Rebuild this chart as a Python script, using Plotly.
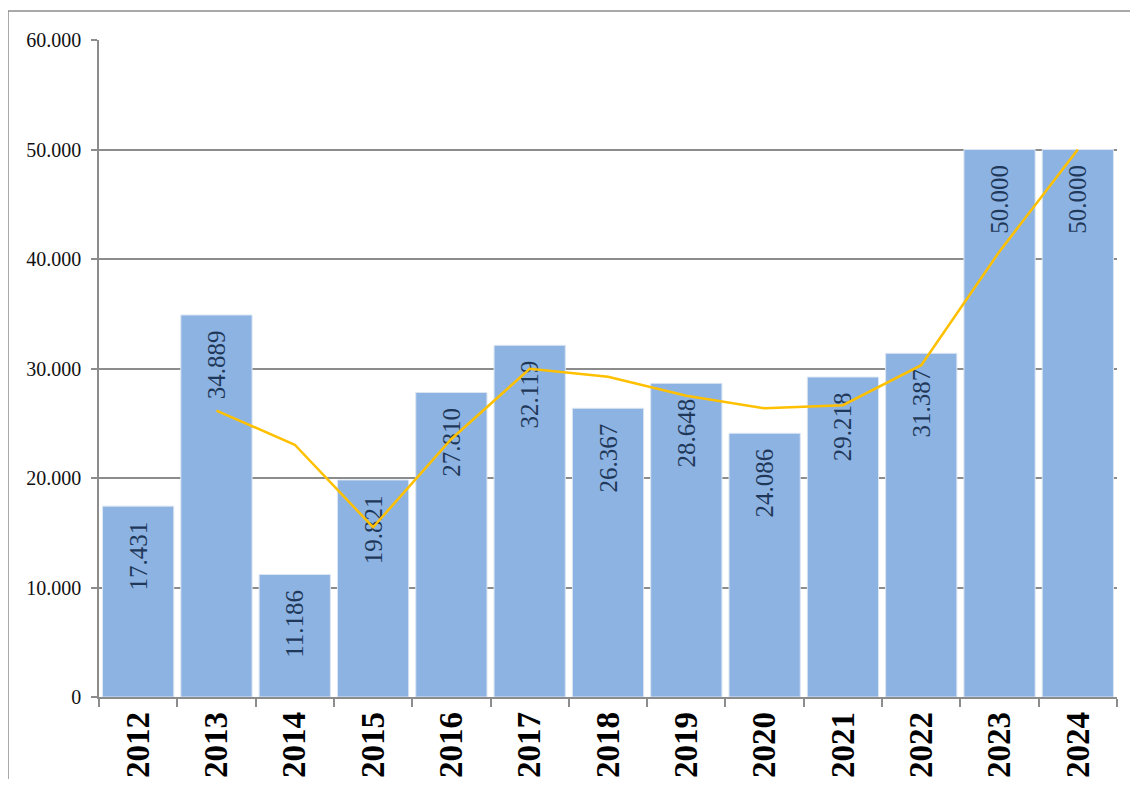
import plotly.graph_objects as go

years = ["2012", "2013", "2014", "2015", "2016", "2017", "2018",
         "2019", "2020", "2021", "2022", "2023", "2024"]
values = [17431, 34889, 11186, 19821, 27810, 32119, 26367,
          28648, 24086, 29218, 31387, 50000, 50000]
# yellow line (starts in 2013)
line_years = years[1:]
line_values = [26160, 23038, 15504, 23566, 29965, 29243, 27508,
               26367, 26652, 30303, 40694, 50000]

fig = go.Figure()

fig.add_trace(go.Bar(
    x=years, y=values,
    marker=dict(color="#8DB3E2", line=dict(color="#DCE6F2", width=1)),
    texttemplate="%{y:,.0f}\u00a0\u00a0",
    textposition="inside",
    insidetextanchor="end",
    textangle=-90,
    insidetextfont=dict(family="Liberation Serif", size=25, color="#1F3859"),
    showlegend=False,
))

fig.add_trace(go.Scatter(
    x=line_years, y=line_values, mode="lines",
    line=dict(color="#FFC000", width=2.5),
    showlegend=False,
))

# the page has an 8px body margin, so the figure sits 8px in from the top-left
off = 8
W, H = 1138 - 2 * off, 787 - 2 * off
ml, mr, mt, mb = 99 - off, 1138 - off - 1117, 40 - off, (787 - off) - 697
pw, ph = W - ml - mr, H - mt - mb
px = lambda v: (v - off - ml) / pw
py = lambda v: (H - mb - (v - off)) / ph

# outer frame (top and left edges)
fig.add_shape(type="line", xref="paper", yref="paper",
              x0=px(8), x1=px(1145), y0=py(11), y1=py(11),
              line=dict(color="#8C8C8C", width=1.5))
fig.add_shape(type="line", xref="paper", yref="paper",
              x0=px(8), x1=px(8), y0=py(11), y1=py(795),
              line=dict(color="#8C8C8C", width=1.5))

fig.update_xaxes(
    type="category",
    tickson="boundaries",
    ticks="outside", ticklen=8, tickcolor="#8C8C8C", tickwidth=1.5,
    showline=True, linecolor="#8C8C8C", linewidth=1.5,
    showgrid=False,
    tickangle=-90,
    automargin=False,
    tickfont=dict(family="Liberation Serif", size=33, color="black", weight="bold"),
)
fig.update_yaxes(
    range=[0, 60000], dtick=10000, tickformat=",d",
    ticks="outside", ticklen=6, tickcolor="#8C8C8C", tickwidth=1.5,
    showline=True, linecolor="#8C8C8C", linewidth=1.5,
    showgrid=True, gridcolor="#8C8C8C", gridwidth=1.5,
    zeroline=False,
    automargin=False,
    ticklabelstandoff=6,
    tickfont=dict(family="Liberation Serif", size=20, color="#111111"),
)
fig.update_layout(
    width=W, height=H,
    margin=dict(l=ml, r=mr, t=mt, b=mb),
    bargap=0.09,
    separators=",.",
    plot_bgcolor="white", paper_bgcolor="white",
)

fig.write_html("out.html")
